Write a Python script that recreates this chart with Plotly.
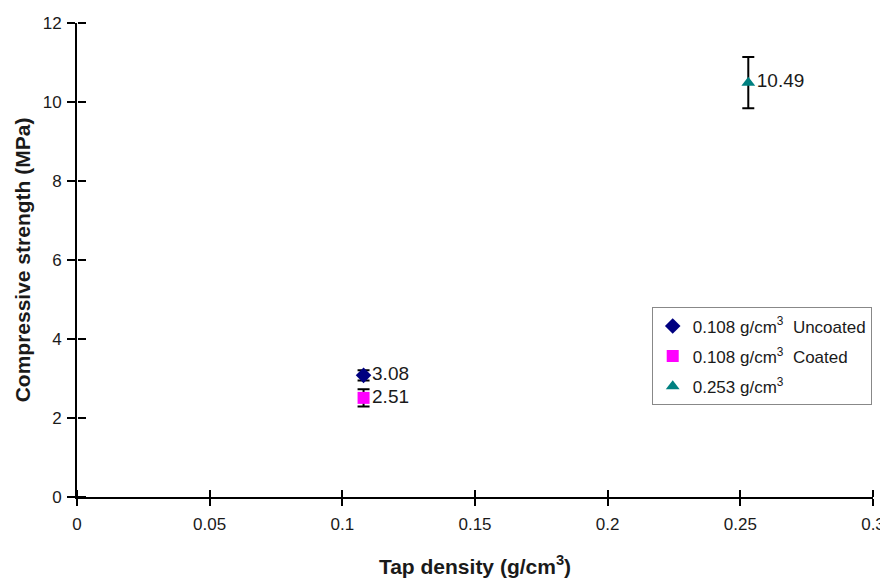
import plotly.graph_objects as go

series_names = ["0.108 g/cm<sup>3</sup>  Uncoated", "0.108 g/cm<sup>3</sup>  Coated", "0.253 g/cm<sup>3</sup>"]
tap_density = [0.108, 0.108, 0.253]
strength = [3.08, 2.51, 10.49]
strength_err = [0.13, 0.22, 0.65]
labels = ["3.08", "2.51", "10.49"]
symbols = ["diamond", "square", "triangle-up"]
colors = ["#000080", "#FF00FF", "#008080"]
x_ticks = [0, 0.05, 0.1, 0.15, 0.2, 0.25, 0.3]
x_ticktext = ["0", "0.05", "0.1", "0.15", "0.2", "0.25", "0.3"]
y_ticks = [0, 2, 4, 6, 8, 10, 12]

TXT = "#1a1a1a"
fig = go.Figure()
for i, (name, x, y, e, lab, sym, col) in enumerate(zip(series_names, tap_density, strength, strength_err, labels, symbols, colors)):
    fig.add_trace(go.Scatter(
        x=[x], y=[y], name=name, mode="markers+text", legendgroup=f"g{i}",
        text=[lab], textposition="middle right",
        textfont=dict(family="Arial", size=19, color=TXT),
        marker=dict(symbol=sym, color=col, size=12),
        error_y=dict(type="data", array=[e], color="black", thickness=2, width=6),
    ))

fig.add_trace(go.Scatter(x=[None], y=[None], xaxis="x2", yaxis="y2", showlegend=False, hoverinfo="skip"))

axis_font = dict(family="Arial", size=17, color=TXT)
title_font = dict(family="Arial", size=21, color=TXT)
# page body has an 8px margin, so the figure is 8px smaller and margins are shifted
fig.update_layout(
    width=880, height=572,
    margin=dict(l=69, r=15, t=15, b=83),
    plot_bgcolor="white", paper_bgcolor="white",
    font=dict(family="Arial", color=TXT),
    xaxis=dict(range=[0, 0.3], tickvals=x_ticks, ticktext=x_ticktext, automargin=False,
               showgrid=False, zeroline=False, showline=True, linecolor="black", linewidth=2,
               ticks="outside", ticklen=7, tickwidth=1.5, tickcolor="black",
               tickfont=axis_font, ticklabelstandoff=4,
               title=dict(text="<b>Tap density (g/cm<sup>3</sup>)</b>", font=title_font, standoff=26)),
    yaxis=dict(range=[0, 12], tickvals=y_ticks, automargin=False,
               showgrid=False, zeroline=False, showline=True, linecolor="black", linewidth=2,
               ticks="outside", ticklen=8, tickwidth=1.5, tickcolor="black",
               tickfont=axis_font, ticklabelstandoff=2,
               title=dict(text="<b>Compressive strength (MPa)</b>", font=title_font, standoff=6)),
    xaxis2=dict(range=[0, 0.3], overlaying="x", anchor="free", position=0, tickvals=x_ticks,
                showticklabels=False, showgrid=False, zeroline=False, ticks="outside", ticklen=7,
                tickwidth=1.5, tickcolor="black", side="top", showline=False, automargin=False),
    yaxis2=dict(range=[0, 12], overlaying="y", anchor="free", position=0, tickvals=y_ticks,
                showticklabels=False, showgrid=False, zeroline=False, ticks="outside", ticklen=8,
                tickwidth=1.5, tickcolor="black", side="right", showline=False, automargin=False),
    legend=dict(x=0.722, y=0.40, xanchor="left", yanchor="top",
                bgcolor="white", bordercolor="#888", borderwidth=1,
                font=dict(family="Arial", size=17, color=TXT),
                itemsizing="constant", tracegroupgap=5, itemwidth=30),
    showlegend=True,
)
fig.write_html("out.html")
